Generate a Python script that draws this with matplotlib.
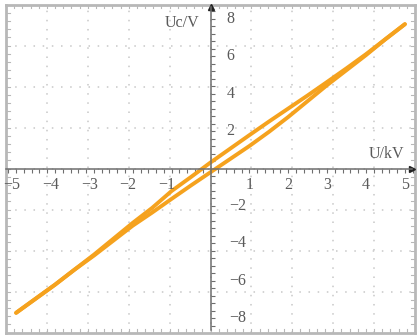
import matplotlib.pyplot as plt
from matplotlib.ticker import MultipleLocator

# voltage sweep (kV) and measured capacitor voltage (V) on both branches of the loop
u_kv = [-5, -4.5, -4, -3.5, -3, -2.5, -2, -1.5, -1, -0.5, 0,
        0.5, 1, 1.5, 2, 2.5, 3, 3.5, 4, 4.5, 5]
uc_upper = [-7.7, -6.95, -6.2, -5.4, -4.6, -3.75, -2.9, -2.1, -1.2, -0.45, 0.32,
            1.05, 1.78, 2.5, 3.2, 3.9, 4.62, 5.35, 6.1, 6.9, 7.7]
uc_lower = [-7.7, -6.95, -6.2, -5.4, -4.65, -3.85, -3.05, -2.35, -1.62, -0.9, -0.2,
            0.5, 1.2, 1.95, 2.75, 3.6, 4.45, 5.25, 6.05, 6.9, 7.7]

x_ticks = [-5, -4, -3, -2, -1, 1, 2, 3, 4, 5]
y_ticks = [-8, -6, -4, -2, 2, 4, 6, 8]

x_label = "U/kV"
y_label = "Uc/V"

trace_color = "#F5A21E"
frame_color = "#B8B8B8"
axis_color = "#6E6E6E"
text_color = "#5A5A5A"
font = "Liberation Serif"

fig = plt.figure(figsize=(4.17, 3.35), dpi=100)
rect = [6 / 417, 2.5 / 335, 409 / 417, 328 / 335]

# oscilloscope style frame: 10 x 8 divisions, dotted grid, small ticks on the border
frame = fig.add_axes(rect)
frame.set_xlim(0, 10)
frame.set_ylim(0, 8)
frame.set_xticks([])
frame.set_yticks([])
for side in frame.spines.values():
    side.set_color(frame_color)
    side.set_linewidth(2)

for i in range(1, 10):
    frame.plot([i, i], [0, 8], color="#C8C8C8", lw=1.1,
               linestyle=(0, (1, 5)))
for j in range(1, 8):
    frame.plot([0, 10], [j, j], color="#C8C8C8", lw=1.1,
               linestyle=(0, (1, 5)))

tick_h = 0.09
for k in range(1, 50):
    x = k / 5
    frame.plot([x, x], [0, tick_h], color=frame_color, lw=0.8)
    frame.plot([x, x], [8 - tick_h, 8], color=frame_color, lw=0.8)
tick_w = 0.09
for k in range(1, 40):
    y = k / 5
    frame.plot([0, tick_w], [y, y], color=frame_color, lw=0.8)
    frame.plot([10 - tick_w, 10], [y, y], color=frame_color, lw=0.8)

# data axes with spines crossing at the origin
ax = fig.add_axes(rect)
ax.patch.set_alpha(0)
ax.set_xlim(-5.26, 5.26)
ax.set_ylim(-8.75, 8.75)

ax.spines["top"].set_visible(False)
ax.spines["right"].set_visible(False)
ax.spines["left"].set_position(("data", 0))
ax.spines["bottom"].set_position(("data", 0))
ax.spines["left"].set_bounds(-8.6, 8.6)
ax.spines["bottom"].set_bounds(-5.26, 5.17)
for name in ["left", "bottom"]:
    ax.spines[name].set_color(axis_color)
    ax.spines[name].set_linewidth(1.1)

ax.xaxis.set_major_locator(MultipleLocator(1))
ax.xaxis.set_minor_locator(MultipleLocator(0.2))
ax.yaxis.set_major_locator(MultipleLocator(2))
ax.yaxis.set_minor_locator(MultipleLocator(0.4))
ax.tick_params(axis="x", which="both", direction="out", length=3,
               color=axis_color, width=0.8, labelbottom=False)
ax.tick_params(axis="y", which="both", direction="in", length=3,
               color=axis_color, width=0.8, labelleft=False)

ax.plot(5.17, 0, marker=">", color="#222222", markersize=5, clip_on=False)
ax.plot(0, 8.6, marker="^", color="#222222", markersize=5, clip_on=False)

for t in x_ticks:
    xpos = t - 0.12 if t < 0 else t
    ax.text(xpos, -0.45, str(t).replace("-", "\u2212"), ha="center", va="top",
            fontsize=11.5, color=text_color, family=font)
for t in y_ticks:
    xpos = 0.52 if t > 0 else 0.7
    ax.text(xpos, t, str(t).replace("-", "\u2212"), ha="center", va="center",
            fontsize=11.5, color=text_color, family=font)

ax.text(-0.72, 7.75, y_label, ha="center", va="center",
        fontsize=11.5, color=text_color, family=font)
ax.text(4.53, 0.75, x_label, ha="center", va="center",
        fontsize=11.5, color=text_color, family=font)

ax.plot(u_kv, uc_upper, color=trace_color, lw=2.8, solid_capstyle="round")
ax.plot(u_kv, uc_lower, color=trace_color, lw=2.8, solid_capstyle="round")

plt.savefig("out.png", dpi=100)
plt.close()
